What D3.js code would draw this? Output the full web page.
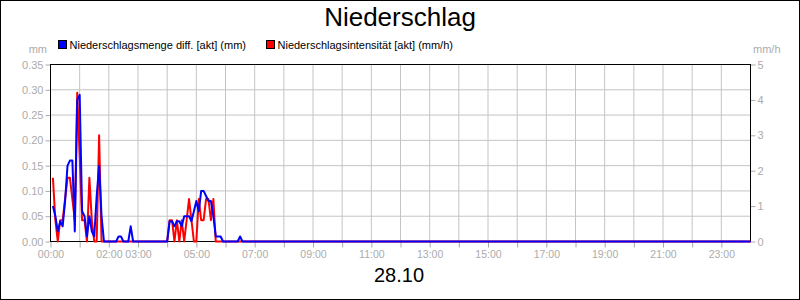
<!DOCTYPE html>
<html>
<head>
<meta charset="utf-8">
<script src="https://cdn.jsdelivr.net/npm/d3@7"></script>
<style>
  body { margin: 0; background: #fff; }
  svg { display: block; font-family: "Liberation Sans", Arial, sans-serif; }
</style>
</head>
<body>
<div class="chart"></div>
<script>
// readings every 5 minutes, first one at 00:05; after 06:40 everything is 0 until 24:00
var stepMin = 5;
var dayEndMin = 1440;
var mengeMm = [
  0.07, 0.05, 0.02, 0.04, 0.03, 0.08, 0.15, 0.16, 0.16, 0.02,
  0.28, 0.29, 0.06, 0.05, 0.01, 0.05, 0.02, 0.01, 0.09, 0.15,
  0.05, 0, 0, 0, 0, 0, 0, 0.01, 0.01, 0,
  0, 0, 0.03, 0, 0, 0, 0, 0, 0, 0,
  0, 0, 0, 0, 0, 0, 0, 0, 0.04, 0.04,
  0.03, 0.04, 0.04, 0.03, 0.05, 0.05, 0.05, 0.04, 0.06, 0.08,
  0.06, 0.10, 0.10, 0.09, 0.08, 0.08, 0.05, 0.01, 0.01, 0.01,
  0, 0, 0, 0, 0, 0, 0, 0.01, 0, 0
];
var intensMmh = [
  1.8, 0.6, 0, 0.6, 0.6, 1.2, 1.8, 1.8, 1.2, 0.6,
  4.2, 2.4, 0.6, 0.6, 0, 1.8, 0.6, 0, 0, 3.0,
  0, 0, 0, 0, 0, 0, 0, 0, 0, 0,
  0, 0, 0, 0, 0, 0, 0, 0, 0, 0,
  0, 0, 0, 0, 0, 0, 0, 0, 0.6, 0.6,
  0, 0.6, 0, 0.6, 0, 0.6, 1.2, 0.6, 0, 0,
  1.2, 0.6, 0.6, 1.2, 1.2, 0.6, 1.2, 0, 0, 0,
  0, 0, 0, 0, 0, 0, 0, 0, 0, 0
];
var hourTicks = d3.range(0, 24);
var xLabels = ["00:00", "02:00", "03:00", "05:00", "07:00", "09:00", "11:00",
               "13:00", "15:00", "17:00", "19:00", "21:00", "23:00"];
var leftTicks = [0, 0.05, 0.10, 0.15, 0.20, 0.25, 0.30, 0.35];
var rightTicks = [0, 1, 2, 3, 4, 5];
var seriesNames = ["Niederschlagsmenge diff. [akt] (mm)", "Niederschlagsintensität [akt] (mm/h)"];
var title = "Niederschlag";
var dateLabel = "28.10";

var W = 800, H = 300;
var m = { left: 50.5, right: 49.5, top: 64.5, bottom: 58.5 };
var grey = "#ababab";

var svg = d3.select('.chart')
  .append('svg')
  .attr('width', W)
  .attr('height', H);

svg.append('rect')
  .attr('x', 0.5).attr('y', 0.5)
  .attr('width', W - 1).attr('height', H - 1)
  .attr('fill', '#fff').attr('stroke', '#000');

var x = d3.scaleLinear().domain([0, dayEndMin]).range([m.left, W - m.right]);
var yL = d3.scaleLinear().domain([0, 0.35]).range([H - m.bottom, m.top]);
var yR = d3.scaleLinear().domain([0, 5]).range([H - m.bottom, m.top]);

function toPoints(vals) {
  var pts = vals.map(function(v, i) { return { t: (i + 1) * stepMin, v: v }; });
  pts.push({ t: dayEndMin, v: 0 });
  return pts;
}

// grid
var grid = svg.append('g').attr('stroke', '#c4c4c4').attr('stroke-width', 1);
grid.selectAll('.gx').data(hourTicks.slice(1)).enter().append('line')
  .attr('x1', function(d) { return x(d * 60); })
  .attr('x2', function(d) { return x(d * 60); })
  .attr('y1', m.top).attr('y2', H - m.bottom);
grid.selectAll('.gy').data(leftTicks.slice(1, -1)).enter().append('line')
  .attr('x1', m.left).attr('x2', W - m.right)
  .attr('y1', function(d) { return yL(d); })
  .attr('y2', function(d) { return yL(d); });

// axes
function styleAxis(g, size) {
  g.select('.domain').remove();
  g.selectAll('.tick line').attr('stroke', grey);
  g.selectAll('.tick text').attr('fill', grey).style('font-size', size || '11px')
    .style('font-family', '"Liberation Sans", Arial, sans-serif');
}

svg.append('g')
  .attr('transform', 'translate(' + m.left + ',0)')
  .call(d3.axisLeft(yL).tickValues(leftTicks).tickFormat(d3.format('.2f')).tickSize(5).tickPadding(2))
  .call(styleAxis);

svg.append('g')
  .attr('transform', 'translate(' + (W - m.right) + ',0)')
  .call(d3.axisRight(yR).tickValues(rightTicks).tickFormat(d3.format('d')).tickSize(5).tickPadding(2))
  .call(styleAxis);

svg.append('g')
  .attr('transform', 'translate(0,' + (H - m.bottom) + ')')
  .call(d3.axisBottom(x).tickValues(hourTicks.map(function(h) { return h * 60; }))
    .tickSize(6).tickPadding(3)
    .tickFormat(function(d) {
      var s = d3.format('02d')(d / 60) + ':00';
      return xLabels.indexOf(s) >= 0 ? s : '';
    }))
  .call(styleAxis, '10.5px');

svg.append('text').text('mm')
  .attr('x', 47).attr('y', 53).attr('text-anchor', 'end')
  .attr('fill', grey).style('font-size', '11px');
svg.append('text').text('mm/h')
  .attr('x', 753).attr('y', 53)
  .attr('fill', grey).style('font-size', '11px');

// frame
svg.append('rect')
  .attr('x', m.left).attr('y', m.top)
  .attr('width', W - m.left - m.right).attr('height', H - m.top - m.bottom)
  .attr('fill', 'none').attr('stroke', '#000').attr('stroke-width', 1);

// lines
var lineR = d3.line().x(function(d) { return x(d.t); }).y(function(d) { return yR(d.v); });
var lineL = d3.line().x(function(d) { return x(d.t); }).y(function(d) { return yL(d.v); });

svg.append('path').datum(toPoints(intensMmh))
  .attr('d', lineR)
  .attr('fill', 'none').attr('stroke', '#ff0000').attr('stroke-width', 2)
  .attr('stroke-linejoin', 'round');
svg.append('path').datum(toPoints(mengeMm))
  .attr('d', lineL)
  .attr('fill', 'none').attr('stroke', '#0000ff').attr('stroke-width', 2)
  .attr('stroke-linejoin', 'round');

// title, legend, date
svg.append('text').text(title)
  .attr('x', 400).attr('y', 26).attr('text-anchor', 'middle')
  .attr('fill', '#000').style('font-size', '26px');

var legendX = [58.5, 266.5];
var legendCol = ['#0000ff', '#ff0000'];
var leg = svg.selectAll('.leg').data(seriesNames).enter().append('g');
leg.append('rect')
  .attr('x', function(d, i) { return legendX[i]; }).attr('y', 40.5)
  .attr('width', 8).attr('height', 8)
  .attr('fill', function(d, i) { return legendCol[i]; })
  .attr('stroke', '#000');
leg.append('text').text(function(d) { return d; })
  .attr('x', function(d, i) { return legendX[i] + 11; }).attr('y', 48.5)
  .attr('fill', '#000').style('font-size', '11px');

svg.append('text').text(dateLabel)
  .attr('x', 399).attr('y', 282).attr('text-anchor', 'middle')
  .attr('fill', '#000').style('font-size', '20px');
</script>
</body>
</html>
